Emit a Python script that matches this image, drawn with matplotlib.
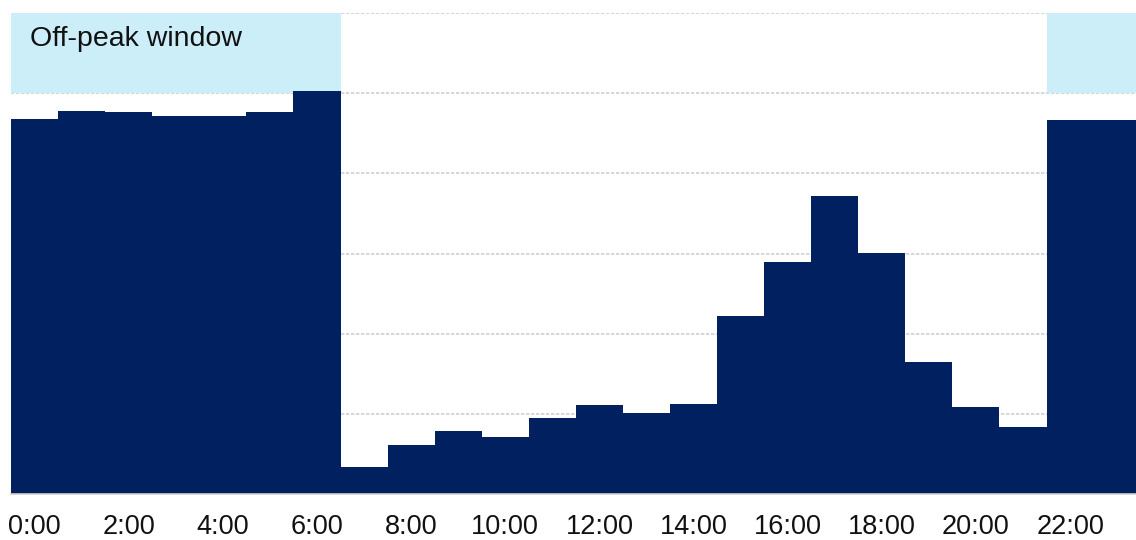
import matplotlib
matplotlib.use("Agg")

import matplotlib.pyplot as plt
import numpy as np

# hourly load profile, one bar per hour
hours = list(range(24))
load = [4.68, 4.78, 4.76, 4.72, 4.72, 4.76, 5.03,
        0.34, 0.61, 0.78, 0.71, 0.95, 1.11, 1.01, 1.12,
        2.22, 2.89, 3.72, 3.01, 1.65, 1.09, 0.84,
        4.67, 4.67]
offpeak_hours = [0, 1, 2, 3, 4, 5, 6, 22, 23]
tick_hours = list(range(0, 24, 2))
tick_labels = [f"{h}:00" for h in tick_hours]

NAVY = "#002060"
SHADE = "#CCEEF9"

plt.rcParams["font.family"] = ["Liberation Sans", "DejaVu Sans"]

fig = plt.figure(figsize=(11.36, 5.40), dpi=100)
ax = fig.add_axes([0.0097, 0.0852, 0.9903, 0.8907])

# off-peak band along the top row
ax.bar(offpeak_hours, [1] * len(offpeak_hours), bottom=5, width=1,
       align="edge", color=SHADE, linewidth=0, zorder=1)
ax.bar(hours, load, width=1, align="edge", color=NAVY, linewidth=0, zorder=2)

ax.text(0.4, 5.67, "Off-peak window", fontsize=20.5, va="center", ha="left",
        color="#111111", zorder=3)

ax.set_xlim(0, 23.9)
ax.set_ylim(0, 6)
ax.set_yticks(np.arange(0, 7, 1))
ax.yaxis.grid(True, color="#d0d0d0", linestyle=(0, (2, 1)), linewidth=1.2)
ax.set_axisbelow(True)
ax.tick_params(axis="y", left=False, labelleft=False)

ax.set_xticks([h + 0.5 for h in tick_hours])
ax.set_xticklabels(tick_labels, fontsize=19.5, color="#111111")
ax.tick_params(axis="x", length=0, pad=14.5)

for side in ["top", "right", "left"]:
    ax.spines[side].set_visible(False)
ax.spines["bottom"].set_color("#d0d0d0")
ax.spines["bottom"].set_linewidth(1.2)

fig.savefig("out.png", dpi=100)
